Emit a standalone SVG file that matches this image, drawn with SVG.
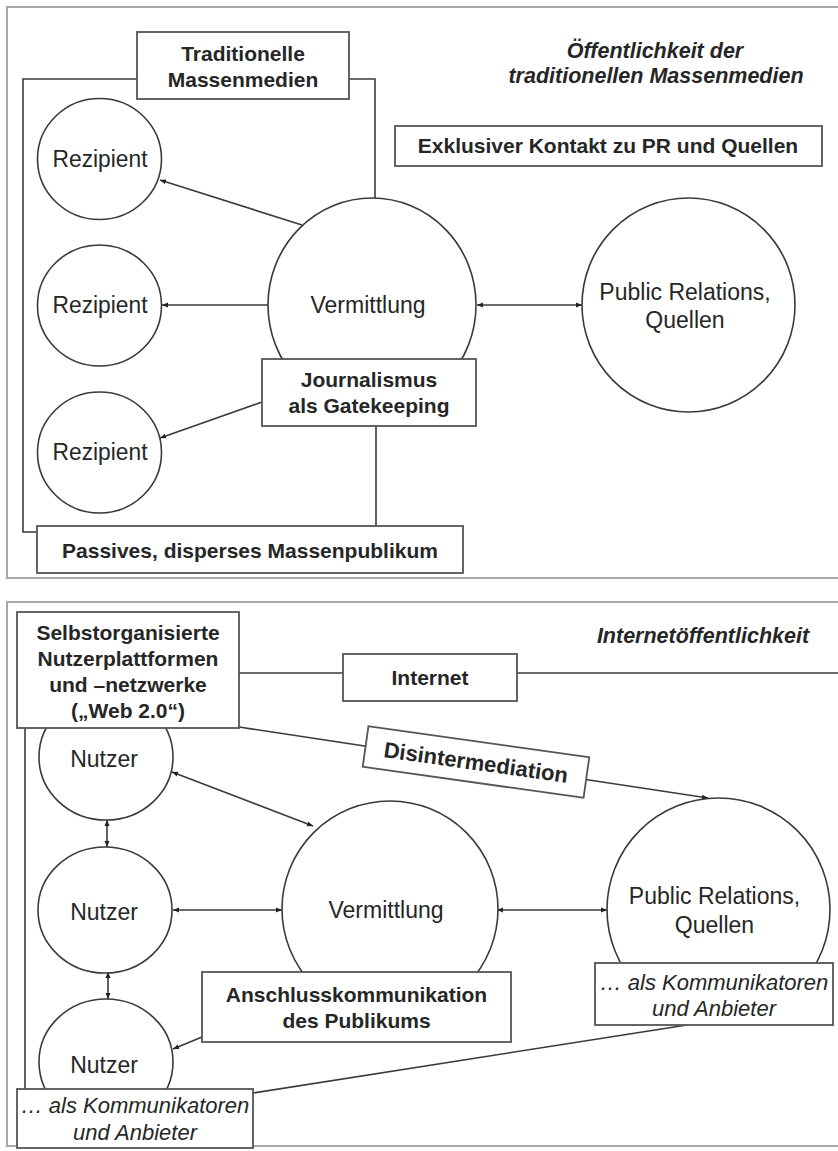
<svg xmlns="http://www.w3.org/2000/svg" width="838" height="1151" viewBox="0 0 838 1151">
<style>
.panel{fill:#fff;stroke:#a8a8a8;stroke-width:2}
.ln{fill:none;stroke:#3a3a3a;stroke-width:1.6}
.nd{fill:#fff;stroke:#3a3a3a;stroke-width:1.6}
.bx{fill:#fff;stroke:#555;stroke-width:1.8}
text{font-family:"Liberation Sans",Arial,sans-serif;fill:#262626;text-anchor:middle}
.b{font-weight:bold;font-size:21px}
.r{font-size:23px}
.bi{font-weight:bold;font-style:italic;font-size:21.5px}
.i{font-style:italic;font-size:22px}
</style>
<defs>
<marker id="ah" viewBox="0 0 6 6" refX="6" refY="3" markerWidth="6" markerHeight="6" markerUnits="userSpaceOnUse" orient="auto-start-reverse">
<path d="M0,0.5 L6,3 L0,5.5 z" fill="#222"/>
</marker>
</defs>
<rect width="838" height="1151" fill="#fff"/>
<rect class="panel" x="7" y="7" width="845" height="571"/>
<rect class="panel" x="7" y="602" width="845" height="544"/>

<g id="connectors">
<polyline class="ln" points="137,79 23,79 23,532 37,532"/>
<polyline class="ln" points="349,79 375,79 375,198"/>
<line class="ln" x1="376" y1="426" x2="376" y2="526"/>
<line class="ln" x1="302" y1="225" x2="160" y2="180" marker-end="url(#ah)"/>
<line class="ln" x1="268" y1="305" x2="162" y2="305" marker-end="url(#ah)"/>
<line class="ln" x1="262" y1="402" x2="160" y2="438" marker-end="url(#ah)"/>
<line class="ln" x1="477" y1="305" x2="582" y2="305" marker-start="url(#ah)" marker-end="url(#ah)"/>

<line class="ln" x1="239" y1="673" x2="343" y2="673"/>
<line class="ln" x1="517" y1="673" x2="845" y2="673"/>
<line class="ln" x1="25" y1="728" x2="25" y2="1089"/>
<line class="ln" x1="239" y1="727" x2="708" y2="798" marker-end="url(#ah)"/>
<line class="ln" x1="172" y1="772" x2="313" y2="826" marker-start="url(#ah)" marker-end="url(#ah)"/>
<line class="ln" x1="107" y1="820" x2="107" y2="847" marker-start="url(#ah)" marker-end="url(#ah)"/>
<line class="ln" x1="108" y1="972" x2="108" y2="999" marker-start="url(#ah)" marker-end="url(#ah)"/>
<line class="ln" x1="173" y1="910" x2="282" y2="910" marker-start="url(#ah)" marker-end="url(#ah)"/>
<line class="ln" x1="497" y1="910" x2="607" y2="910" marker-start="url(#ah)" marker-end="url(#ah)"/>
<line class="ln" x1="202" y1="1037" x2="173" y2="1049" marker-end="url(#ah)"/>
<line class="ln" x1="687" y1="1025" x2="253" y2="1093"/>
</g>

<g id="rezipient1"><ellipse class="nd" cx="99.5" cy="159" rx="62" ry="60.5"/><text class="r" x="100" y="167" textLength="95" lengthAdjust="spacingAndGlyphs">Rezipient</text></g>
<g id="rezipient2"><ellipse class="nd" cx="99.5" cy="305.5" rx="62" ry="60.5"/><text class="r" x="100" y="313" textLength="95" lengthAdjust="spacingAndGlyphs">Rezipient</text></g>
<g id="rezipient3"><ellipse class="nd" cx="99.5" cy="452.5" rx="62" ry="60.5"/><text class="r" x="100" y="460" textLength="95" lengthAdjust="spacingAndGlyphs">Rezipient</text></g>
<g id="vermittlung1"><ellipse class="nd" cx="372" cy="305" rx="104" ry="107"/><text class="r" x="368" y="313">Vermittlung</text></g>
<g id="pr1"><ellipse class="nd" cx="688.5" cy="305" rx="106.5" ry="107"/><text class="r" x="685" y="300">Public Relations,</text><text class="r" x="685" y="328">Quellen</text></g>

<g id="traditionelle"><rect class="bx" x="137" y="32" width="212" height="67"/><text class="b" x="243" y="61">Traditionelle</text><text class="b" x="243" y="87">Massenmedien</text></g>
<g id="title1"><text class="bi" x="655" y="58">Öffentlichkeit der</text><text class="bi" x="656" y="83">traditionellen Massenmedien</text></g>
<g id="exklusiv"><rect class="bx" x="395" y="126" width="427" height="40"/><text class="b" x="608" y="153">Exklusiver Kontakt zu PR und Quellen</text></g>
<g id="journalismus"><rect class="bx" x="262" y="359" width="214" height="67"/><text class="b" x="369" y="387">Journalismus</text><text class="b" x="369" y="413">als Gatekeeping</text></g>
<g id="passives"><rect class="bx" x="37" y="526" width="426" height="47"/><text class="b" x="250" y="558">Passives, disperses Massenpublikum</text></g>

<g id="nutzer1"><ellipse class="nd" cx="106" cy="757" rx="67" ry="63"/><text class="r" x="104" y="767">Nutzer</text></g>
<g id="nutzer2"><ellipse class="nd" cx="105" cy="910" rx="67" ry="63"/><text class="r" x="104" y="920">Nutzer</text></g>
<g id="nutzer3"><ellipse class="nd" cx="106" cy="1062" rx="67" ry="63"/><text class="r" x="104" y="1073">Nutzer</text></g>
<g id="vermittlung2"><circle class="nd" cx="390" cy="909" r="108"/><text class="r" x="386" y="918">Vermittlung</text></g>
<g id="pr2"><circle class="nd" cx="718.5" cy="909.5" r="111.5"/><text class="r" x="714.5" y="904">Public Relations,</text><text class="r" x="714.5" y="933">Quellen</text></g>

<g id="selbstorg"><rect class="bx" x="17" y="612" width="222" height="116"/><text class="b" x="128" y="640">Selbstorganisierte</text><text class="b" x="128" y="666">Nutzerplattformen</text><text class="b" x="128" y="692">und –netzwerke</text><text class="b" x="128" y="718">(„Web 2.0“)</text></g>
<g id="internet"><rect class="bx" x="343" y="654" width="174" height="47"/><text class="b" x="430" y="685">Internet</text></g>
<g id="title2"><text class="bi" x="703" y="643">Internetöffentlichkeit</text></g>
<g id="disintermediation" transform="translate(476,762) rotate(8)"><rect class="bx" x="-111.5" y="-20.5" width="223" height="41"/><text class="b" x="0" y="8" style="font-size:22px">Disintermediation</text></g>
<g id="anschluss"><rect class="bx" x="202" y="972" width="309" height="70"/><text class="b" x="356.5" y="1002">Anschlusskommunikation</text><text class="b" x="356.5" y="1028">des Publikums</text></g>
<g id="anbieter-right"><rect class="bx" x="595" y="963" width="238" height="62"/><text class="i" x="714" y="990">… als Kommunikatoren</text><text class="i" x="714" y="1016">und Anbieter</text></g>
<g id="anbieter-left"><rect class="bx" x="17" y="1089" width="236" height="59"/><text class="i" x="135" y="1113">… als Kommunikatoren</text><text class="i" x="135" y="1140">und Anbieter</text></g>
</svg>
